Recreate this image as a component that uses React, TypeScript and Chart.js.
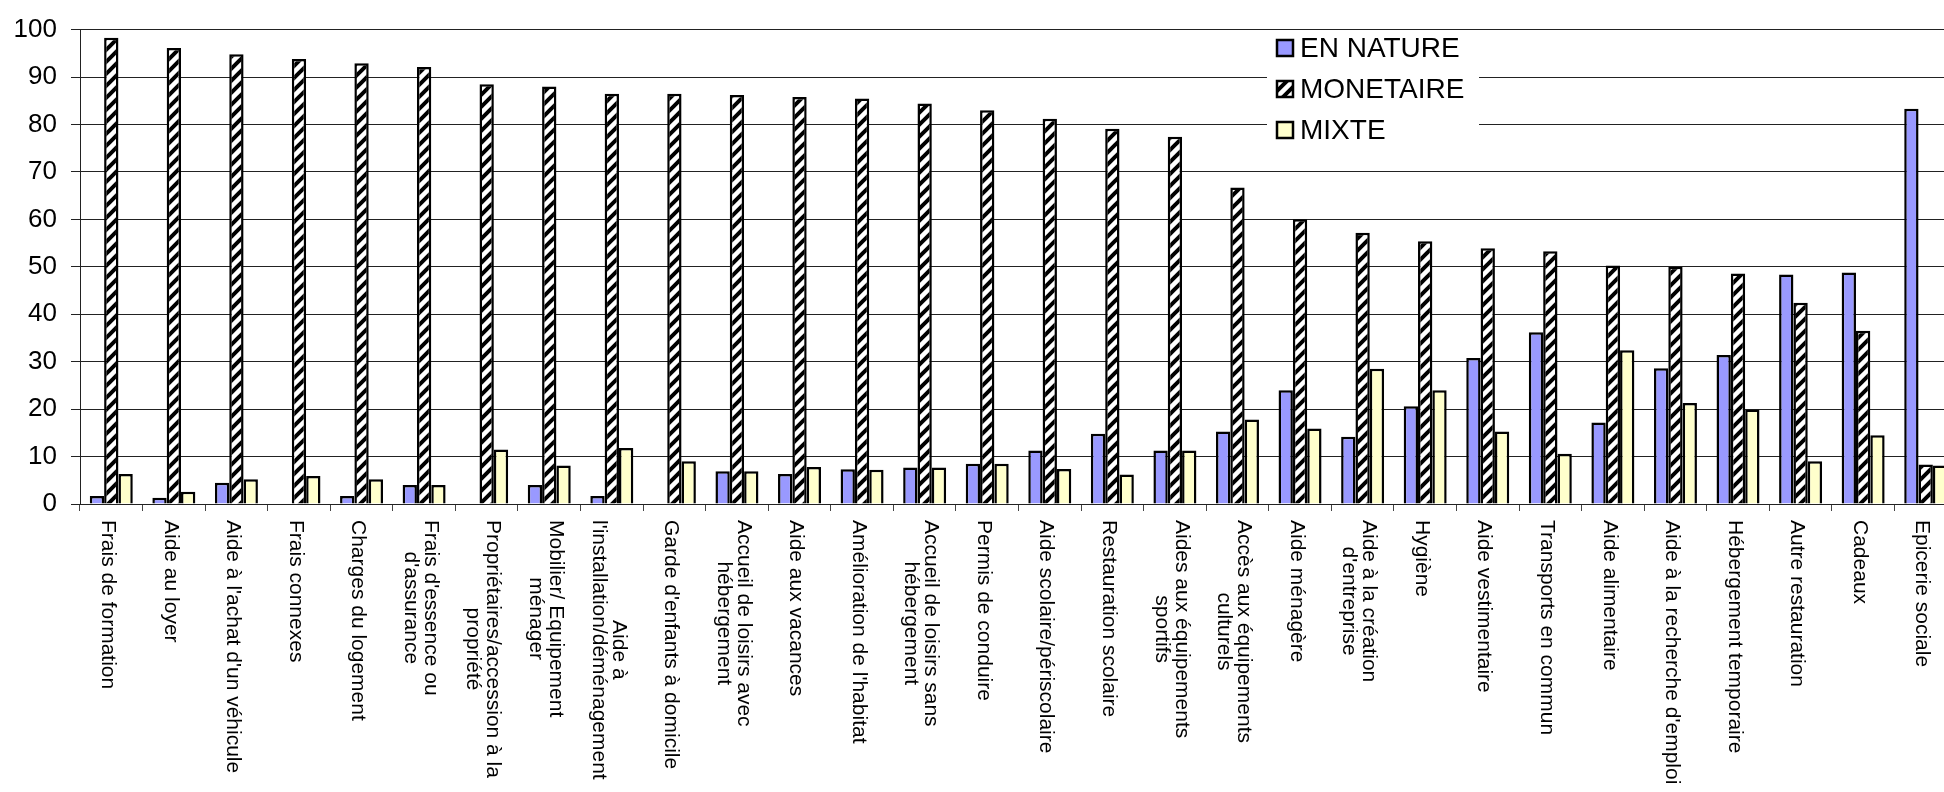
import React, { useEffect, useRef } from "react";
import { Chart, registerables } from "chart.js";

Chart.register(...registerables);

// Category labels (each entry is the list of wrapped lines)
const categories: string[][] = [
  ["Frais de formation"],
  ["Aide au loyer"],
  ["Aide à l'achat d'un véhicule"],
  ["Frais connexes"],
  ["Charges du logement"],
  ["Frais d'essence ou", "d'assurance"],
  ["Propriétaires/accession à la", "propriété"],
  ["Mobilier/ Equipement", "ménager"],
  ["Aide à", "l'installation/déménagement"],
  ["Garde d'enfants à domicile"],
  ["Accueil de loisirs avec", "hébergement"],
  ["Aide aux vacances"],
  ["Amélioration de l'habitat"],
  ["Accueil de loisirs sans", "hébergement"],
  ["Permis de conduire"],
  ["Aide scolaire/périscolaire"],
  ["Restauration scolaire"],
  ["Aides aux équipements", "sportifs"],
  ["Accès aux équipements", "culturels"],
  ["Aide ménagère"],
  ["Aide à la création", "d'entreprise"],
  ["Hygiène"],
  ["Aide vestimentaire"],
  ["Transports en commun"],
  ["Aide alimentaire"],
  ["Aide à la recherche d'emploi"],
  ["Hébergement temporaire"],
  ["Autre restauration"],
  ["Cadeaux"],
  ["Epicerie sociale"],
];

const enNature = [
  1.7, 1.3, 4.5, 0, 1.7, 4.0, 0, 4.0, 1.7, 0,
  6.9, 6.3, 7.3, 7.7, 8.5, 11.3, 14.8, 11.3, 15.3, 24.0,
  14.2, 20.6, 30.8, 36.2, 17.2, 28.6, 31.4, 48.4, 48.8, 83.3,
];

const monetaire = [
  98.3, 96.1, 94.8, 93.8, 92.9, 92.1, 88.5, 88.0, 86.5, 86.5,
  86.2, 85.8, 85.5, 84.4, 83.0, 81.2, 79.1, 77.4, 66.7, 60.0,
  57.2, 55.4, 53.9, 53.3, 50.3, 50.0, 48.6, 42.4, 36.5, 8.3,
];

const mixte = [
  6.3, 2.6, 5.2, 5.9, 5.2, 4.0, 11.5, 8.1, 11.8, 9.0,
  6.9, 7.8, 7.2, 7.7, 8.5, 7.4, 6.2, 11.3, 17.8, 15.9,
  28.5, 24.0, 15.3, 10.6, 32.4, 21.3, 19.9, 9.0, 14.5, 8.1,
];

const seriesNames = ["EN NATURE", "MONETAIRE", "MIXTE"];

const FONT = '"Liberation Sans", Arial, sans-serif';
// The plot runs a little past the right edge of the window and is clipped there
const CANVAS_W = 1957;
const CANVAS_H = 792;
const PLOT_TOP = 24;
const PLOT_BOTTOM = 504;
const Y_AXIS_W = 80;
const LABEL_SIZE = 21;
const LABEL_LINE = 20;

function makeHatch(): CanvasPattern | string {
  const s = 12;
  const c = document.createElement("canvas");
  c.width = s;
  c.height = s;
  const g = c.getContext("2d");
  if (!g) return "#fff";
  g.fillStyle = "#fff";
  g.fillRect(0, 0, s, s);
  g.strokeStyle = "#000";
  g.lineWidth = 4;
  g.beginPath();
  g.moveTo(-2, s + 2);
  g.lineTo(s + 2, -2);
  g.moveTo(-4, 4);
  g.lineTo(4, -4);
  g.moveTo(s - 4, s + 4);
  g.lineTo(s + 4, s - 4);
  g.stroke();
  return g.createPattern(c, "repeat") || "#fff";
}

// Category labels rotated clockwise, reading top to bottom, lines centred
const verticalLabels = {
  id: "verticalLabels",
  afterDraw(chart: any) {
    const ctx: CanvasRenderingContext2D = chart.ctx;
    const xs = chart.scales.x;
    ctx.save();
    ctx.font = `${LABEL_SIZE}px ${FONT}`;
    ctx.fillStyle = "#000";
    ctx.textAlign = "center";
    ctx.textBaseline = "middle";
    (chart.data.labels as string[][]).forEach((lab, i) => {
      const lines = Array.isArray(lab) ? lab : [String(lab)];
      const cx = xs.getPixelForValue(i) - 3.5;
      const w = Math.max(...lines.map((l) => ctx.measureText(l).width));
      ctx.save();
      ctx.translate(cx, PLOT_BOTTOM + 16);
      ctx.rotate(Math.PI / 2);
      const n = lines.length;
      lines.forEach((l, k) => {
        ctx.fillText(l, w / 2, (k - (n - 1) / 2) * LABEL_LINE);
      });
      ctx.restore();
    });
    ctx.restore();
  },
};

// Legend box floating inside the plot area
const floatingLegend = {
  id: "floatingLegend",
  afterDraw(chart: any) {
    const ctx: CanvasRenderingContext2D = chart.ctx;
    const ys = chart.scales.y;
    const top = ys.getPixelForValue(100) + 2;
    const bottom = ys.getPixelForValue(70) - 3;
    const left = 1267;
    const right = 1479;
    ctx.save();
    ctx.fillStyle = "#fff";
    ctx.fillRect(left, top, right - left, bottom - top);
    const rowH = 41;
    const firstY = 48;
    ctx.font = `28px ${FONT}`;
    ctx.textBaseline = "middle";
    ctx.textAlign = "left";
    chart.data.datasets.forEach((ds: any, i: number) => {
      const cy = firstY + i * rowH;
      ctx.fillStyle = ds.backgroundColor;
      ctx.fillRect(1277, cy - 8, 16, 16);
      ctx.strokeStyle = "#000";
      ctx.lineWidth = 2.5;
      ctx.strokeRect(1277, cy - 8, 16, 16);
      ctx.fillStyle = "#000";
      ctx.fillText(ds.label, 1300, cy + 1);
    });
    ctx.restore();
  },
};

export default function App() {
  const canvasRef = useRef<HTMLCanvasElement>(null);

  useEffect(() => {
    const canvas = canvasRef.current;
    if (!canvas) return;
    const hatch = makeHatch();
    const chart = new Chart(canvas, {
      type: "bar",
      data: {
        labels: categories as any,
        datasets: [
          {
            label: seriesNames[0],
            data: enNature,
            backgroundColor: "#9999FF",
            borderColor: "#000",
            borderWidth: 2.5,
          },
          {
            label: seriesNames[1],
            data: monetaire,
            backgroundColor: hatch as any,
            borderColor: "#000",
            borderWidth: 2.5,
          },
          {
            label: seriesNames[2],
            data: mixte,
            backgroundColor: "#FFFFCC",
            borderColor: "#000",
            borderWidth: 2.5,
          },
        ],
      },
      options: {
        responsive: false,
        animation: false,
        devicePixelRatio: 1,
        layout: { padding: { top: PLOT_TOP, left: 0, right: 0, bottom: 0 } },
        datasets: { bar: { categoryPercentage: 0.687, barPercentage: 1 } },
        plugins: { legend: { display: false }, tooltip: { enabled: false } },
        scales: {
          x: {
            ticks: { display: false },
            grid: {
              display: true,
              drawOnChartArea: false,
              drawTicks: true,
              tickLength: 7,
              offset: true,
              color: "#444",
              lineWidth: 1,
            },
            border: { display: true, color: "#222", width: 1 },
            afterFit: (s: any) => {
              s.height = CANVAS_H - PLOT_BOTTOM;
            },
          },
          y: {
            min: 0,
            max: 100,
            ticks: {
              stepSize: 10,
              color: "#000",
              padding: 14,
              font: { family: FONT, size: 26 },
            },
            grid: { color: "#222", lineWidth: 1, tickLength: 9 },
            border: { display: true, color: "#222", width: 1 },
            afterFit: (s: any) => {
              s.width = Y_AXIS_W;
            },
          },
        },
      },
      plugins: [verticalLabels, floatingLegend],
    });
    return () => chart.destroy();
  }, []);

  return (
    <div
      style={{
        position: "fixed",
        left: 0,
        top: 0,
        width: "100vw",
        height: "100vh",
        overflow: "hidden",
        background: "#fff",
      }}
    >
      <canvas
        ref={canvasRef}
        width={CANVAS_W}
        height={CANVAS_H}
        style={{ display: "block", width: CANVAS_W, height: CANVAS_H }}
      />
    </div>
  );
}
